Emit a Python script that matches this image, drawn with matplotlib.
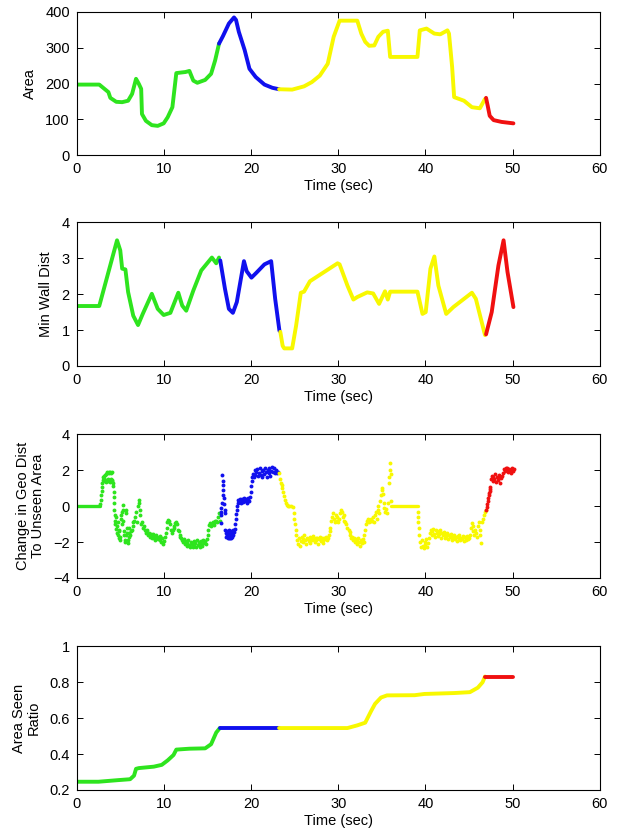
import numpy as np
import matplotlib
matplotlib.use("Agg")
import matplotlib.pyplot as plt

plt.rcParams['font.family'] = ['Liberation Sans', 'DejaVu Sans']

GREEN = '#2ee41e'
BLUE = '#1010ee'
YELLOW = '#f8f800'
RED = '#f01010'

# --- Area ---
area_green = [(0, 197), (2.58, 197), (3.63, 176), (3.85, 160), (4.53, 149), (5.21, 148),
              (5.89, 152), (6.35, 171), (6.8, 213), (7.12, 199), (7.39, 185), (7.48, 115),
              (7.93, 96), (8.61, 84), (9.29, 82), (9.97, 89), (10.43, 106), (10.97, 134),
              (11.42, 229), (12.47, 232), (12.92, 235), (13.37, 208), (13.83, 202),
              (14.73, 210), (15.41, 227), (15.87, 264), (16.32, 311)]
area_blue = [(16.32, 311), (16.77, 332), (17.45, 367), (18.04, 384), (18.27, 377),
             (18.59, 344), (19.26, 293), (19.81, 241), (20.53, 218), (21.53, 197),
             (22.44, 188), (23.21, 184)]
area_yellow = [(23.21, 184), (24.71, 183), (26.07, 192), (26.97, 204), (27.88, 222),
               (28.79, 255), (29.47, 330), (30.15, 375), (32.18, 375), (32.64, 339),
               (33.09, 316), (33.54, 305), (34.13, 306), (34.59, 330), (35.13, 344),
               (35.68, 347), (35.95, 274), (39.08, 274), (39.35, 348), (40.12, 353),
               (41.02, 339), (41.7, 337), (42.52, 348), (42.7, 339), (43.06, 246),
               (43.29, 162), (44.42, 152), (45.33, 134), (46.24, 131), (46.83, 157)]
area_red = [(46.95, 160), (47.14, 138), (47.37, 110), (47.82, 98), (48.73, 93), (50.09, 89)]

# --- Min Wall Dist ---
wall_green = [(0, 1.67), (2.58, 1.67), (4.62, 3.5), (4.99, 3.22), (5.21, 2.71), (5.58, 2.69),
              (5.89, 2.06), (6.48, 1.4), (7.03, 1.14), (7.57, 1.45), (8.61, 2.01), (9.29, 1.59),
              (9.97, 1.42), (10.74, 1.48), (11.65, 2.04), (12.1, 1.68), (12.56, 1.54),
              (13.37, 2.1), (14.28, 2.66), (15.5, 3.02), (16.0, 2.86), (16.32, 3.02)]
wall_blue = [(16.46, 2.94), (17.0, 2.15), (17.45, 1.59), (17.91, 1.48), (18.36, 1.78),
             (19.18, 2.92), (19.49, 2.64), (20.04, 2.46), (20.62, 2.6), (21.53, 2.83),
             (22.3, 2.92), (22.76, 1.87), (23.25, 0.98)]
wall_yellow = [(23.35, 0.95), (23.62, 0.56), (23.8, 0.49), (24.71, 0.49), (25.16, 1.12),
               (25.7, 2.04), (26.07, 2.07), (26.75, 2.36), (29.92, 2.86), (30.15, 2.83),
               (31.05, 2.24), (31.73, 1.85), (32.18, 1.92), (33.32, 2.05), (34.0, 2.02),
               (34.68, 1.73), (35.36, 2.08), (35.68, 1.85), (35.95, 2.07), (39.08, 2.07),
               (39.66, 1.45), (40.03, 1.5), (40.57, 2.71), (41.02, 3.05), (41.48, 2.24),
               (42.38, 1.45), (43.2, 1.64), (45.33, 2.04), (45.78, 1.87), (46.83, 0.86)]
wall_red = [(46.95, 0.88), (47.6, 1.5), (48.37, 2.8), (48.96, 3.5), (49.41, 2.62), (50.09, 1.64)]

# --- Change in Geo Dist To Unseen Area ---
geo_green_flat = [(0, 0), (2.65, 0)]
geo_green = [
    (2.7, 0.1), (2.75, 0.35), (2.8, 0.6), (2.85, 0.85), (2.9, 1.05), (2.95, 1.3), (3.0, 1.45),
    (3.05, 1.6), (3.1, 1.7), (3.15, 1.5), (3.2, 1.4), (3.25, 1.75), (3.3, 1.8), (3.35, 1.45),
    (3.4, 1.35), (3.45, 1.85), (3.5, 1.9), (3.55, 1.5), (3.6, 1.4), (3.65, 1.85), (3.7, 1.9),
    (3.75, 1.45), (3.8, 1.35), (3.85, 1.9), (3.9, 1.85), (3.95, 1.5), (4.0, 1.4), (4.05, 1.9),
    (4.1, 1.45), (4.15, 1.3), (4.2, 1.1), (4.22, 0.8), (4.25, 0.5), (4.28, 0.2), (4.3, -0.2),
    (4.33, -0.5), (4.35, -0.8), (4.4, -1.0), (4.45, -1.25), (4.5, -0.6), (4.6, -1.5),
    (4.65, -1.1), (4.7, -0.9), (4.75, -1.6), (4.8, -1.3), (4.85, -1.8), (4.9, -1.4),
    (4.95, -1.9), (5.0, -1.7), (5.05, -0.7), (5.1, -0.5), (5.15, -0.3), (5.2, -1.0),
    (5.25, -0.8), (5.3, 0.05), (5.35, -0.2), (5.4, -1.6), (5.45, -1.4), (5.5, -1.9),
    (5.55, -2.0), (5.6, -1.6), (5.65, -0.2), (5.7, -0.4), (5.75, -1.2), (5.8, -1.5),
    (5.85, -2.05), (5.9, -1.9), (5.95, -1.7), (6.0, -1.5), (6.05, -1.2), (6.1, -1.6),
    (6.2, -1.4), (6.3, -1.3), (6.4, -0.9), (6.5, -1.1), (6.6, -0.8), (6.7, -0.6), (6.8, -0.3),
    (6.9, -0.9), (7.0, 0.0), (7.1, 0.35), (7.15, 0.2), (7.2, -0.5), (7.3, -0.2), (7.4, -1.0),
    (7.5, -0.9), (7.6, -1.2), (7.7, -1.1), (7.8, -1.3), (7.9, -1.4), (8.0, -1.5), (8.1, -1.35),
    (8.2, -1.6), (8.3, -1.5), (8.4, -1.7), (8.5, -1.55), (8.6, -1.8), (8.7, -1.65),
    (8.8, -1.55), (8.9, -1.75), (9.0, -1.9), (9.1, -1.6), (9.2, -1.7), (9.3, -1.85),
    (9.4, -1.75), (9.5, -1.65), (9.6, -1.9), (9.7, -2.0), (9.8, -1.8), (9.9, -2.1),
    (10.0, -1.95), (10.1, -1.7), (10.2, -1.5), (10.3, -1.2), (10.4, -0.9), (10.5, -0.75),
    (10.6, -0.85), (10.7, -1.0), (10.8, -1.3), (10.9, -1.5), (11.0, -1.35), (11.1, -1.2),
    (11.2, -1.1), (11.3, -0.95), (11.4, -0.9), (11.5, -1.0), (11.6, -1.3), (11.7, -1.4),
    (11.8, -1.6), (11.9, -1.7), (12.0, -1.8), (12.1, -1.9), (12.2, -2.0), (12.3, -1.85),
    (12.4, -2.1), (12.5, -1.95), (12.6, -2.2), (12.7, -2.05), (12.8, -1.9), (12.9, -2.15),
    (13.0, -2.3), (13.1, -2.0), (13.2, -2.1), (13.3, -2.25), (13.4, -1.95), (13.5, -2.2),
    (13.6, -2.05), (13.7, -2.3), (13.8, -1.9), (13.9, -2.15), (14.0, -2.0), (14.1, -2.25),
    (14.2, -1.95), (14.3, -2.1), (14.4, -2.2), (14.5, -1.9), (14.6, -2.05), (14.7, -1.95),
    (14.8, -2.1), (14.9, -1.85), (15.0, -1.6), (15.1, -1.3), (15.2, -1.05), (15.3, -0.95),
    (15.4, -1.1), (15.5, -1.0), (15.6, -0.9), (15.7, -1.05), (15.8, -0.95), (15.9, -0.8),
    (16.0, -0.85), (16.1, -0.9), (16.2, -0.6), (16.3, -0.4), (16.4, -0.8)]
geo_blue = [
    (16.5, -0.5), (16.55, -0.3), (16.6, -0.1), (16.65, 0.2), (16.7, 1.72), (16.72, 1.4),
    (16.75, 1.2), (16.78, 0.9), (16.8, 0.6), (16.85, 0.45), (16.9, 0.1), (16.95, -0.2),
    (17.0, -0.4), (16.55, -0.95), (17.05, -1.3), (17.1, -1.5), (17.15, -1.7), (17.2, -1.4),
    (17.25, -1.6), (17.3, -1.8), (17.35, -1.5), (17.4, -1.7), (17.45, -1.3), (17.5, -1.8),
    (17.55, -1.55), (17.6, -1.75), (17.65, -1.4), (17.7, -1.65), (17.75, -1.8), (17.8, -1.5),
    (17.85, -1.7), (17.9, -1.3), (17.95, -1.6), (18.0, -1.45), (18.1, -1.25), (18.2, -1.0),
    (18.25, -0.7), (18.3, -0.45), (18.35, -0.2), (18.4, 0.0), (18.45, 0.2), (18.5, 0.35),
    (18.6, 0.25), (18.7, 0.4), (18.8, 0.2), (18.9, 0.35), (19.0, 0.4), (19.1, 0.25),
    (19.2, 0.45), (19.3, 0.3), (19.4, 0.4), (19.5, 0.2), (19.6, 0.35), (19.7, 0.45),
    (19.8, 0.3), (19.9, 0.5), (19.95, 0.8), (20.0, 1.1), (20.05, 1.4), (20.1, 1.6),
    (20.2, 1.8), (20.3, 1.6), (20.4, 2.0), (20.5, 1.75), (20.6, 1.9), (20.7, 2.05),
    (20.8, 1.7), (20.9, 1.85), (21.0, 2.1), (21.1, 1.75), (21.2, 1.95), (21.3, 1.6),
    (21.4, 2.0), (21.5, 1.8), (21.6, 2.15), (21.7, 1.9), (21.8, 1.65), (21.9, 2.0),
    (22.0, 1.85), (22.1, 2.1), (22.2, 1.7), (22.3, 1.95), (22.4, 2.2), (22.5, 1.9),
    (22.6, 2.1), (22.7, 1.85), (22.8, 2.0), (22.9, 1.95), (23.0, 1.85), (23.1, 1.9)]
geo_yellow_flat = [(36.05, 0), (39.1, 0)]
geo_yellow = [
    (23.25, 1.85), (23.35, 1.5), (23.4, 1.3), (23.5, 1.2), (23.6, 1.0), (23.7, 0.8),
    (23.8, 0.55), (23.9, 0.35), (24.0, 0.2), (24.1, 0.05), (24.2, 0.0), (24.4, 0.0),
    (24.6, 0.0), (24.8, -0.05), (24.9, -0.4), (24.95, -0.7), (25.0, -1.0), (25.1, -1.3),
    (25.2, -1.6), (25.3, -1.9), (25.4, -2.1), (25.5, -1.8), (25.6, -2.2), (25.7, -1.95),
    (25.8, -1.7), (25.9, -2.0), (26.0, -1.85), (26.1, -1.6), (26.2, -1.9), (26.3, -2.1),
    (26.4, -1.75), (26.5, -1.85), (26.6, -1.95), (26.7, -1.7), (26.8, -2.05), (26.9, -1.8),
    (27.0, -1.9), (27.1, -1.65), (27.2, -1.85), (27.3, -2.0), (27.4, -1.75), (27.5, -1.9),
    (27.6, -1.8), (27.7, -2.1), (27.8, -1.85), (27.9, -1.7), (28.0, -1.95), (28.1, -1.8),
    (28.2, -1.9), (28.3, -2.05), (28.4, -1.75), (28.5, -1.85), (28.6, -1.7), (28.7, -1.9),
    (28.8, -1.8), (28.9, -1.6), (29.0, -1.4), (29.1, -1.2), (29.2, -0.8), (29.3, -0.6),
    (29.4, -0.4), (29.5, -0.7), (29.6, -0.9), (29.7, -0.5), (29.8, -0.8), (29.9, -0.6),
    (30.0, -0.9), (30.1, -0.7), (30.2, -0.4), (30.3, -0.2), (30.4, -0.35), (30.5, -0.6),
    (30.6, -0.8), (30.7, -0.5), (30.8, -0.9), (30.9, -1.0), (31.0, -1.2), (31.2, -1.3),
    (31.3, -1.45), (31.4, -1.6), (31.5, -1.75), (31.6, -1.7), (31.7, -1.9), (31.8, -1.8),
    (31.9, -2.0), (32.0, -1.85), (32.1, -1.95), (32.2, -2.1), (32.3, -1.8), (32.4, -2.0),
    (32.5, -2.2), (32.6, -1.9), (32.7, -2.05), (32.8, -1.85), (32.9, -2.0), (33.0, -1.6),
    (33.1, -1.3), (33.2, -1.0), (33.3, -0.8), (33.4, -0.7), (33.5, -0.9), (33.6, -0.75),
    (33.7, -0.85), (33.8, -0.7), (33.9, -0.8), (34.0, -0.6), (34.1, -0.9), (34.2, -0.5),
    (34.3, -0.3), (34.4, -0.7), (34.5, -0.2), (34.6, 0.0), (34.7, -0.4), (34.8, 0.3),
    (34.9, 0.6), (35.0, 0.9), (35.05, 1.0), (35.1, 0.7), (35.2, 0.2), (35.3, -0.1),
    (35.4, -0.3), (35.5, -0.15), (35.6, -0.4), (35.7, 0.2), (35.8, 1.3), (35.85, 1.6),
    (35.9, 2.0), (35.95, 2.4), (36.0, 1.8), (36.05, 0.3), (39.1, -0.3), (39.15, -0.6),
    (39.2, -0.9), (39.25, -1.2), (39.3, -1.6), (39.4, -2.0), (39.5, -2.3), (39.6, -1.9),
    (39.7, -2.2), (39.8, -2.35), (39.9, -2.0), (40.0, -2.15), (40.1, -1.85), (40.2, -2.3),
    (40.3, -2.05), (40.4, -1.8), (40.5, -1.5), (40.6, -1.3), (40.7, -1.6), (40.8, -1.4),
    (40.9, -1.25), (41.0, -1.55), (41.1, -1.7), (41.2, -1.35), (41.3, -1.5), (41.4, -1.65),
    (41.5, -1.4), (41.6, -1.55), (41.7, -1.3), (41.8, -1.75), (41.9, -1.5), (42.0, -1.6),
    (42.1, -1.45), (42.2, -1.8), (42.3, -1.55), (42.4, -1.65), (42.5, -1.5), (42.6, -1.85),
    (42.7, -1.6), (42.8, -1.7), (42.9, -1.55), (43.0, -1.9), (43.1, -1.65), (43.2, -1.75),
    (43.3, -1.6), (43.4, -1.85), (43.5, -1.7), (43.6, -1.95), (43.7, -1.65), (43.8, -1.8),
    (43.9, -1.6), (44.0, -1.9), (44.1, -1.75), (44.2, -1.85), (44.3, -1.65), (44.4, -1.95),
    (44.5, -1.7), (44.6, -1.8), (44.7, -1.9), (44.8, -1.65), (44.9, -1.85), (45.0, -1.75),
    (45.1, -1.6), (45.2, -1.2), (45.3, -0.95), (45.4, -1.1), (45.5, -1.4), (45.6, -1.6),
    (45.7, -1.3), (45.8, -1.5), (45.9, -1.7), (46.0, -1.1), (46.1, -0.9), (46.2, -1.3),
    (46.3, -1.6), (46.4, -2.05), (46.5, -0.9), (46.6, -0.7), (46.7, -0.5), (46.8, -0.3),
    (46.9, -0.2)]
geo_red = [
    (47.0, -0.2), (47.05, -0.05), (47.1, 0.1), (47.15, 0.3), (47.2, 0.45), (47.25, 0.6),
    (47.3, 0.75), (47.35, 0.85), (47.4, 0.95), (47.45, 1.05), (47.5, 1.5), (47.6, 1.7),
    (47.7, 1.4), (47.8, 1.65), (47.9, 1.5), (48.0, 1.8), (48.1, 1.35), (48.2, 1.6),
    (48.3, 1.45), (48.4, 1.75), (48.5, 1.6), (48.6, 1.3), (48.7, 1.55), (48.8, 1.7),
    (48.9, 1.85), (49.0, 2.05), (49.1, 1.95), (49.2, 2.15), (49.3, 2.0), (49.4, 2.1),
    (49.5, 1.9), (49.6, 2.05), (49.7, 2.0), (49.8, 1.85), (49.9, 2.1), (50.0, 1.95),
    (50.1, 2.05)]

# --- Area Seen Ratio ---
ratio_green = [(0, 0.246), (2.49, 0.246), (4.76, 0.255), (6.12, 0.26), (6.57, 0.28),
               (6.8, 0.318), (7.12, 0.322), (8.84, 0.33), (9.75, 0.34), (10.43, 0.365),
               (11.1, 0.395), (11.42, 0.425), (12.92, 0.43), (14.73, 0.432), (15.41, 0.455),
               (16.0, 0.52), (16.41, 0.545)]
ratio_blue = [(16.41, 0.545), (23.21, 0.545)]
ratio_yellow = [(23.21, 0.545), (31.05, 0.545), (32.18, 0.56), (33.09, 0.575), (33.77, 0.64),
                (34.22, 0.68), (34.9, 0.715), (35.59, 0.727), (38.76, 0.728), (39.89, 0.735),
                (43.29, 0.74), (45.1, 0.745), (46.01, 0.77), (46.55, 0.8), (46.83, 0.832)]
ratio_red = [(46.83, 0.832), (50.09, 0.832)]

x_ticks = [0, 10, 20, 30, 40, 50, 60]


def style_axes(ax, ylim, yticks, ylabel):
    ax.set_xlim(0, 60)
    ax.set_ylim(*ylim)
    ax.set_xticks(x_ticks)
    ax.set_yticks(yticks)
    ax.set_xlabel("Time (sec)", fontsize=10.5, labelpad=2)
    ax.set_ylabel(ylabel, fontsize=10.5, labelpad=6, linespacing=1.1)
    ax.tick_params(direction="in", top=True, right=True, length=4, width=0.7,
                   labelsize=10.5, pad=5)
    for s in ax.spines.values():
        s.set_linewidth(0.8)


def draw_line(ax, pts, color, lw=2.8):
    a = np.array(pts)
    ax.plot(a[:, 0], a[:, 1], color=color, lw=lw, solid_capstyle="round",
            solid_joinstyle="round")


def draw_dots(ax, pts, color):
    a = np.array(pts)
    ax.plot(a[:, 0], a[:, 1], "o", color=color, ms=2.8, mew=0)


fig = plt.figure(figsize=(6.19, 8.35), dpi=100)
left, width, height = 0.124, 0.845, 0.172

ax1 = fig.add_axes([left, 0.814, width, height])
for pts, c in [(area_green, GREEN), (area_blue, BLUE), (area_yellow, YELLOW), (area_red, RED)]:
    draw_line(ax1, pts, c)
style_axes(ax1, (0, 400), [0, 100, 200, 300, 400], "Area")

ax2 = fig.add_axes([left, 0.5617, width, height])
for pts, c in [(wall_green, GREEN), (wall_blue, BLUE), (wall_yellow, YELLOW), (wall_red, RED)]:
    draw_line(ax2, pts, c)
style_axes(ax2, (0, 4), [0, 1, 2, 3, 4], "Min Wall Dist")

ax3 = fig.add_axes([left, 0.3078, width, height])
draw_line(ax3, geo_green_flat, GREEN, lw=2.4)
draw_line(ax3, geo_yellow_flat, YELLOW, lw=2.4)
for pts, c in [(geo_green, GREEN), (geo_blue, BLUE), (geo_yellow, YELLOW), (geo_red, RED)]:
    draw_dots(ax3, pts, c)
style_axes(ax3, (-4, 4), [-4, -2, 0, 2, 4], "Change in Geo Dist\nTo Unseen Area")

ax4 = fig.add_axes([left, 0.0539, width, height])
for pts, c in [(ratio_green, GREEN), (ratio_blue, BLUE), (ratio_yellow, YELLOW), (ratio_red, RED)]:
    draw_line(ax4, pts, c)
style_axes(ax4, (0.2, 1), [0.2, 0.4, 0.6, 0.8, 1], "Area Seen\nRatio")
ax4.set_yticklabels(["0.2", "0.4", "0.6", "0.8", "1"])

fig.savefig("out.png", dpi=100)
